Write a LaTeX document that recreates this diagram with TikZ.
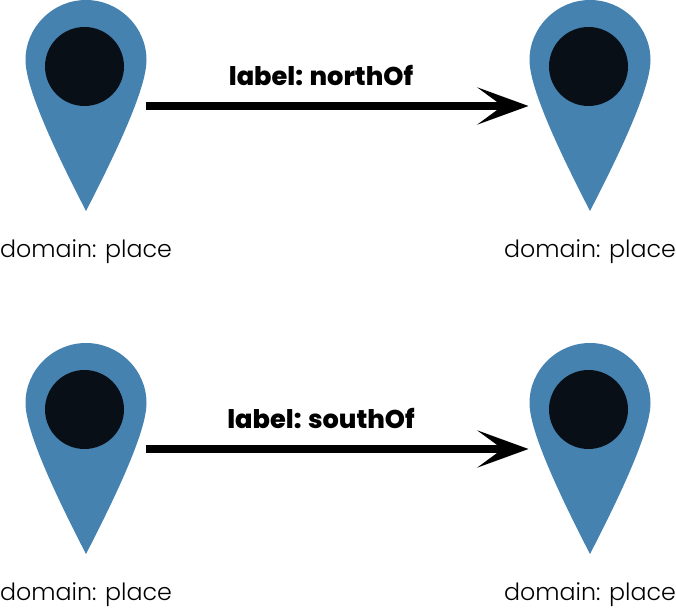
\documentclass[tikz,border=0pt]{standalone}
\usepackage{fontspec}
\newfontfamily\placefont{Poppins Light}
\newfontfamily\linkfont{Poppins ExtraBold}
\usetikzlibrary{arrows.meta}
\definecolor{pinblue}{HTML}{4682B0}
\definecolor{pindot}{HTML}{080F16}
\tikzset{
  >/.tip={Stealth[length=1.02cm,width=0.74cm,inset=0.5cm]},
  link/.style={->,line width=0.155cm,black},
  placetext/.style={font=\fontsize{13.5}{16}\placefont},
  linktext/.style={font=\fontsize{14.6}{17}\linkfont},
  pin/.pic={
    \fill[pinblue] (0,60) .. controls (33,60) and (60.5,33) .. (60.5,0)
      .. controls (60.5,-20) and (46,-62) .. (0,-151)
      .. controls (-46,-62) and (-60.5,-20) .. (-60.5,0)
      .. controls (-60.5,33) and (-33,60) .. (0,60) -- cycle;
    \fill[pindot] (-1.5,-6.5) circle (39.5);
    \coordinate (-out) at (60,-46);
    \coordinate (-in) at (-61.5,-46);
  }
}
\begin{document}
\begin{tikzpicture}[x=0.02cm,y=0.02cm]
\useasboundingbox (0,0) rectangle (676,608);
\pic (a) at (86,548) {pin};
\pic (b) at (590,548) {pin};
\pic (c) at (86,205) {pin};
\pic (d) at (590,205) {pin};
\node[placetext] (ta) at (86,356) {domain: place};
\node[placetext] (tb) at (590,356) {domain: place};
\node[placetext] (tc) at (86,13) {domain: place};
\node[placetext] (td) at (590,13) {domain: place};
\draw[link] (a-out) to (b-in);
\draw[link] (c-out) to (d-in);
\node[linktext] (north) at (321,533) {label: northOf};
\node[linktext] (south) at (321,190) {label: southOf};
\end{tikzpicture}
\end{document}
